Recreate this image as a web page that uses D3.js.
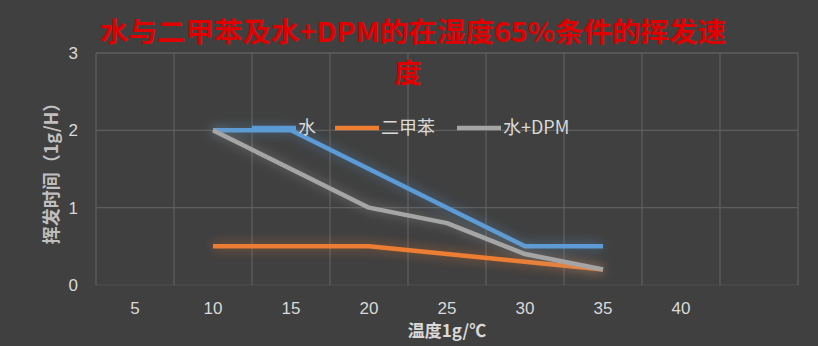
<!DOCTYPE html>
<html>
<head>
<meta charset="utf-8">
<script src="https://cdn.jsdelivr.net/npm/d3@7"></script>
<style>
  body { margin: 0; background: #404040; }
  svg { display: block; }
</style>
</head>
<body>
<div id="container"></div>
<script>
const categories = ['5', '10', '15', '20', '25', '30', '35', '40', ''];
const waterValues = [null, 2, 2, 1.5, 1, 0.5, 0.5, null, null];
const xyleneValues = [null, 0.5, 0.5, 0.5, 0.4, 0.3, 0.2, null, null];
const waterDpmValues = [null, 2, 1.5, 1, 0.8, 0.4, 0.2, null, null];
const seriesNames = ['水', '二甲苯', '水+DPM'];
const yTicks = [0, 1, 2, 3];

const w = 818;
const h = 346;
const margin = { top: 53, right: 20, bottom: 61, left: 96 };
const colors = ['#5B9BD5', '#ED7D31', '#A5A5A5'];

const svg = d3.select('#container')
   .append('svg')
   .attr('width', w)
   .attr('height', h);

svg.append('rect').attr('width', w).attr('height', h).attr('fill', '#404040');

// soft glow round the lines
const defs = svg.append('defs');
colors.forEach((c, i) => {
   const f = defs.append('filter')
      .attr('id', 'glow' + i)
      .attr('x', '-20%').attr('y', '-50%')
      .attr('width', '140%').attr('height', '200%');
   f.append('feGaussianBlur')
      .attr('in', 'SourceGraphic')
      .attr('stdDeviation', 6)
      .attr('result', 'blur');
   f.append('feComponentTransfer')
      .attr('in', 'blur')
      .attr('result', 'soft')
      .append('feFuncA').attr('type', 'linear').attr('slope', 0.55);
   const m = f.append('feMerge');
   m.append('feMergeNode').attr('in', 'soft');
   m.append('feMergeNode').attr('in', 'SourceGraphic');
});

const x = d3.scaleBand()
   .domain(categories.map((d, i) => i))
   .range([margin.left, w - margin.right]);

const y = d3.scaleLinear()
   .domain([0, 3])
   .range([h - margin.bottom, margin.top]);

// grid
svg.append('g')
   .selectAll('line.h')
   .data(yTicks)
   .enter()
   .append('line')
   .attr('x1', margin.left)
   .attr('x2', w - margin.right)
   .attr('y1', d => y(d))
   .attr('y2', d => y(d))
   .attr('stroke', d => d === 0 ? '#4a4a4a' : '#5e5e5e')
   .attr('stroke-width', 1.3);

const vlines = d3.range(categories.length + 1);
svg.append('g')
   .selectAll('line.v')
   .data(vlines)
   .enter()
   .append('line')
   .attr('x1', d => margin.left + d * x.step())
   .attr('x2', d => margin.left + d * x.step())
   .attr('y1', y(3))
   .attr('y2', y(0))
   .attr('stroke', '#5e5e5e')
   .attr('stroke-width', 1.3);

// axes
const yAxis = svg.append('g')
   .attr('transform', 'translate(' + (margin.left - 18) + ',0)')
   .call(d3.axisLeft(y).tickValues(yTicks).tickFormat(d3.format('d')).tickSize(0).tickPadding(0));
yAxis.select('.domain').remove();
yAxis.selectAll('text')
   .attr('fill', '#d9d9d9')
   .style('font-family', 'Liberation Sans, sans-serif')
   .style('font-size', '17px');

const xAxis = svg.append('g')
   .attr('transform', 'translate(0,' + (h - margin.bottom + 17) + ')')
   .call(d3.axisBottom(x).tickFormat(i => categories[i]).tickSize(0).tickPadding(0));
xAxis.select('.domain').remove();
xAxis.selectAll('text')
   .attr('fill', '#d9d9d9')
   .style('font-family', 'Liberation Sans, sans-serif')
   .style('font-size', '17px');

// lines
const allSeries = [waterValues, xyleneValues, waterDpmValues];
const line = d3.line()
   .defined(d => d.v !== null)
   .x(d => x(d.i) + x.bandwidth() / 2)
   .y(d => y(d.v));

svg.append('g')
   .selectAll('path')
   .data(allSeries)
   .enter()
   .append('path')
   .attr('d', s => line(s.map((v, i) => ({ i: i, v: v }))))
   .attr('fill', 'none')
   .attr('stroke', (d, i) => colors[i])
   .attr('stroke-width', 4.5)
   .attr('stroke-linejoin', 'round')
   .attr('filter', (d, i) => 'url(#glow' + i + ')');

// legend
const legendX = [252, 335, 457];
const legend = svg.append('g')
   .selectAll('g')
   .data(seriesNames)
   .enter()
   .append('g')
   .attr('transform', (d, i) => 'translate(' + legendX[i] + ',' + 128 + ')');
legend.append('line')
   .attr('x1', 0).attr('x2', 44)
   .attr('stroke', (d, i) => colors[i])
   .attr('stroke-width', 4.5);
legend.append('text')
   .attr('x', 46)
   .attr('y', 6)
   .attr('fill', '#d9d9d9')
   .style('font-family', 'Noto Sans CJK SC, sans-serif')
   .style('font-size', '18px')
   .text(d => d);

// titles
const title = svg.append('text')
   .attr('text-anchor', 'middle')
   .attr('fill', '#e00000')
   .style('font-family', 'Noto Sans CJK SC, sans-serif')
   .style('font-weight', 'bold')
   .style('font-size', '27px');
title.append('tspan')
   .attr('x', 413).attr('y', 42)
   .attr('textLength', 626)
   .attr('lengthAdjust', 'spacingAndGlyphs')
   .text('水与二甲苯及水+DPM的在湿度65%条件的挥发速');
title.append('tspan')
   .attr('x', 408).attr('y', 83)
   .text('度');

svg.append('text')
   .attr('transform', 'translate(58,' + (y(1.5)) + ') rotate(-90)')
   .attr('text-anchor', 'middle')
   .attr('fill', '#bfbfbf')
   .style('font-family', 'Noto Sans CJK SC, sans-serif')
   .style('font-weight', 'bold')
   .style('font-size', '18px')
   .text('挥发时间（1g/H）');

svg.append('text')
   .attr('x', 447)
   .attr('y', 337)
   .attr('text-anchor', 'middle')
   .attr('fill', '#d9d9d9')
   .style('font-family', 'Noto Sans CJK SC, sans-serif')
   .style('font-weight', 'bold')
   .style('font-size', '17px')
   .text('温度1g/℃');
</script>
</body>
</html>
